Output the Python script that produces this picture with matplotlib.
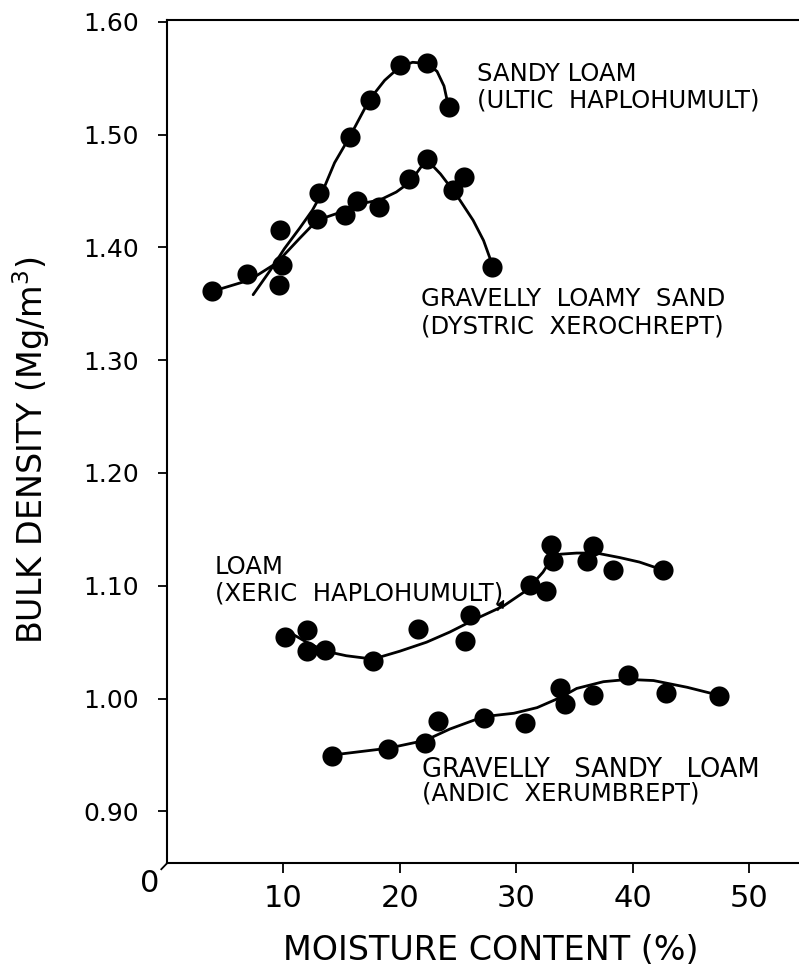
import matplotlib
matplotlib.use("Agg")
import matplotlib.pyplot as plt

# Measured points (moisture %, bulk density Mg/m3)
sandy_loam_x = [13.1, 15.7, 17.4, 20.0, 22.3, 24.2]
sandy_loam_y = [1.448, 1.498, 1.531, 1.562, 1.563, 1.524]

loamy_sand_x = [3.9, 6.9, 9.7, 9.9, 9.6, 12.9, 15.3, 16.3, 18.2, 20.8, 22.3, 24.6, 25.5, 27.9]
loamy_sand_y = [1.361, 1.376, 1.415, 1.384, 1.367, 1.425, 1.429, 1.441, 1.436, 1.461, 1.478, 1.451, 1.462, 1.383]

loam_x = [10.1, 12.0, 12.0, 13.6, 17.7, 21.6, 26.0, 25.6, 31.2, 32.6, 33.0, 33.2, 36.6, 36.1, 38.3, 42.6]
loam_y = [1.055, 1.061, 1.042, 1.043, 1.033, 1.062, 1.074, 1.051, 1.101, 1.095, 1.136, 1.122, 1.135, 1.122, 1.114, 1.114]

gsl_x = [14.2, 19.0, 22.2, 23.3, 27.2, 30.8, 33.8, 34.2, 36.6, 39.6, 42.9, 47.4]
gsl_y = [0.949, 0.955, 0.961, 0.980, 0.983, 0.978, 1.009, 0.995, 1.003, 1.021, 1.005, 1.002]

# Hand-fitted curves through each set
sandy_loam_fit_x = [7.4, 8.9, 10.1, 11.4, 12.5, 13.3, 14.4, 15.7, 17.4, 18.7, 20.0, 21.1, 22.3, 23.2, 23.8, 24.2]
sandy_loam_fit_y = [1.358, 1.380, 1.399, 1.417, 1.433, 1.448, 1.475, 1.498, 1.531, 1.548, 1.560, 1.564, 1.563, 1.556, 1.543, 1.524]

loamy_sand_fit_x = [3.9, 7.1, 9.4, 11.4, 12.9, 14.6, 16.3, 18.3, 19.7, 20.9, 22.3, 23.5, 24.9, 26.3, 27.2, 27.9]
loamy_sand_fit_y = [1.361, 1.371, 1.386, 1.408, 1.424, 1.430, 1.438, 1.442, 1.449, 1.458, 1.478, 1.465, 1.446, 1.424, 1.406, 1.386]

loam_fit_x = [10.3, 12.0, 13.6, 15.4, 17.7, 20.0, 22.3, 24.3, 26.6, 28.9, 30.9, 32.3, 33.1, 33.8, 35.2, 36.9, 38.9, 40.6, 42.6]
loam_fit_y = [1.060, 1.050, 1.042, 1.038, 1.035, 1.042, 1.050, 1.059, 1.071, 1.082, 1.096, 1.112, 1.125, 1.128, 1.129, 1.129, 1.125, 1.121, 1.114]

gsl_fit_x = [14.2, 16.6, 19.0, 22.2, 24.3, 27.2, 29.8, 31.8, 33.8, 35.2, 37.5, 39.6, 41.8, 44.7, 47.4]
gsl_fit_y = [0.950, 0.953, 0.956, 0.963, 0.973, 0.984, 0.987, 0.992, 1.001, 1.009, 1.015, 1.017, 1.016, 1.010, 1.003]

y_ticks = [0.90, 1.00, 1.10, 1.20, 1.30, 1.40, 1.50, 1.60]
x_ticks = [10, 20, 30, 40, 50]

plt.rcParams['font.family'] = ['DejaVu Sans']

fig = plt.figure(figsize=(7.99, 9.66), dpi=100)
ax = fig.add_axes([0.209, 0.1063, 0.791, 0.873])

for fx, fy in [(sandy_loam_fit_x, sandy_loam_fit_y), (loamy_sand_fit_x, loamy_sand_fit_y),
               (loam_fit_x, loam_fit_y), (gsl_fit_x, gsl_fit_y)]:
    ax.plot(fx, fy, color='black', lw=2.0, solid_capstyle='round', solid_joinstyle='round')

for px, py in [(sandy_loam_x, sandy_loam_y), (loamy_sand_x, loamy_sand_y),
               (loam_x, loam_y), (gsl_x, gsl_y)]:
    ax.plot(px, py, 'o', color='black', ms=14.5, mew=0)

ax.set_xlim(0, 54.3)
ax.set_ylim(0.854, 1.6015)
ax.spines['right'].set_visible(False)
for s in ['left', 'top', 'bottom']:
    ax.spines[s].set_linewidth(1.5)

ax.set_yticks(y_ticks)
ax.set_yticklabels([f"{v:.2f}" for v in y_ticks])
ax.set_xticks(x_ticks)
ax.tick_params(axis='y', direction='out', length=6.5, width=1.3, labelsize=18, pad=14)
ax.tick_params(axis='x', direction='out', length=7, width=1.3, labelsize=22, pad=8)

# origin label and small break mark at the corner
ax.text(-0.028, -0.024, "0", transform=ax.transAxes, fontsize=22, ha='center', va='center')
ax.plot([-0.009, 0], [-0.007, 0], transform=ax.transAxes, color='black', lw=1.3, clip_on=False)

fig.text(491 / 799, 1 - 951 / 966, "MOISTURE CONTENT (%)", fontsize=24, ha='center', va='center')
fig.text(31 / 799, 1 - 450 / 966, "BULK DENSITY (Mg/m$^3$)", fontsize=24, rotation=90,
         ha='center', va='center')

# curve labels
lbl = dict(fontsize=17.5, ha='left', va='center')
ax.text(26.6, 1.554, "SANDY LOAM", **lbl)
ax.text(26.6, 1.530, "(ULTIC  HAPLOHUMULT)", **lbl)
ax.text(21.8, 1.354, "GRAVELLY  LOAMY  SAND", **lbl)
ax.text(21.8, 1.3295, "(DYSTRIC  XEROCHREPT)", **lbl)
ax.text(4.1, 1.117, "LOAM", **lbl)
ax.text(4.1, 1.093, "(XERIC  HAPLOHUMULT)", **lbl)
ax.text(21.9, 0.937, "GRAVELLY   SANDY   LOAM", fontsize=18.5, ha='left', va='center')
ax.text(21.9, 0.9155, "(ANDIC  XERUMBREPT)", **lbl)

ax.annotate("", xy=(29.1, 1.090), xytext=(28.3, 1.076),
            arrowprops=dict(arrowstyle='-|>', color='black', lw=1.0, mutation_scale=12))

plt.savefig("out.png", dpi=100)
